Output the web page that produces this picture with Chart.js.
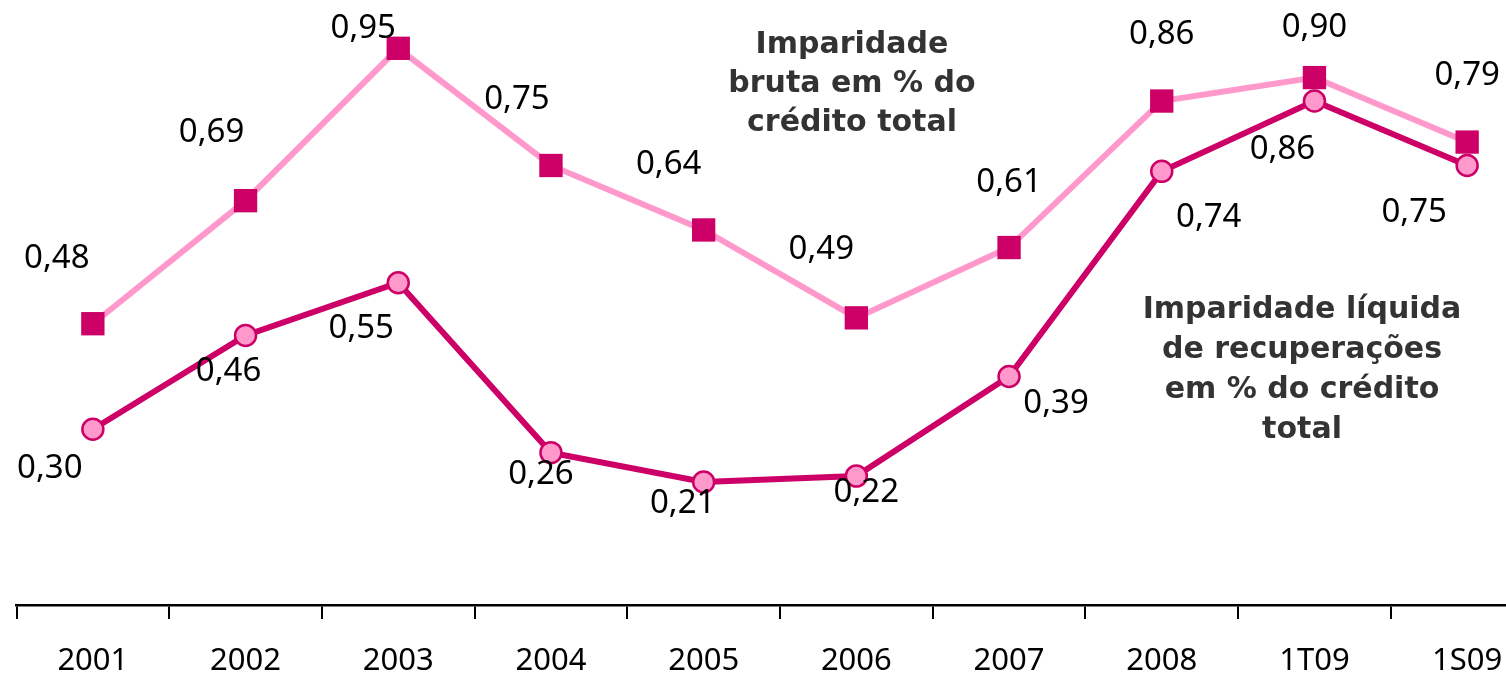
<!DOCTYPE html>
<html><head><meta charset="utf-8">
<script src="https://cdn.jsdelivr.net/npm/chart.js@4/dist/chart.umd.min.js"></script>
<style>
html,body{margin:0;padding:0;background:#fff;overflow:hidden;width:1506px;height:677px;}
#wrap{position:absolute;left:0;top:0;width:1560px;height:677px;}
</style></head>
<body><div id="wrap"><canvas id="c" width="1560" height="677"></canvas></div>
<script>
const categories = ['2001','2002','2003','2004','2005','2006','2007','2008','1T09','1S09'];
const imparidadeBruta = [0.48,0.69,0.95,0.75,0.64,0.49,0.61,0.86,0.90,0.79];
const imparidadeLiquida = [0.30,0.46,0.55,0.26,0.21,0.22,0.39,0.74,0.86,0.75];
const labelOffsetsBruta = [[-36,-65],[-34,-68],[-35,-20],[-34,-66],[-35,-65],[-35,-68],[0,-65],[0,-66],[0,-50],[0,-66]];
const labelOffsetsLiquida = [[-43,39],[-17,36],[-37,46],[-10,22],[-21,22],[10,17],[47,27],[47,46],[-32,49],[-53,47]];
const noteBruta = ['Imparidade','bruta em % do','crédito total'];
const noteLiquida = ['Imparidade líquida','de recuperações','em % do crédito','total'];

const DARK = '#CC0066', LIGHT = '#FF99CC';

const fmt = v => v.toFixed(2).replace('.', ',');

const labelPlugin = {
  id: 'labels',
  afterDatasetsDraw(chart) {
    const ctx = chart.ctx;
    ctx.save();
    ctx.font = '33px "Noto Sans"';
    ctx.fillStyle = '#000';
    ctx.textAlign = 'center';
    ctx.textBaseline = 'middle';
    chart.data.datasets.forEach((ds, di) => {
      const meta = chart.getDatasetMeta(di);
      const offs = ds.labelOffsets;
      meta.data.forEach((pt, i) => {
        ctx.fillText(fmt(ds.data[i]), pt.x + offs[i][0], pt.y + offs[i][1]);
      });
    });
    ctx.font = 'bold 30px "DejaVu Sans"';
    ctx.fillStyle = '#333333';
    noteBruta.forEach((t, i) => ctx.fillText(t, 852, 45 + i * 39));
    noteLiquida.forEach((t, i) => ctx.fillText(t, 1302, 310 + i * 40));
    ctx.restore();
  }
};

new Chart(document.getElementById('c'), {
  type: 'line',
  data: {
    labels: categories,
    datasets: [
      {
        label: 'Imparidade líquida de recuperações em % do crédito total',
        data: imparidadeLiquida,
        labelOffsets: labelOffsetsLiquida,
        borderColor: DARK, borderWidth: 6,
        pointStyle: 'circle', pointRadius: 10.5, pointBorderWidth: 2.5,
        pointBackgroundColor: LIGHT, pointBorderColor: DARK,
        tension: 0
      },
      {
        label: 'Imparidade bruta em % do crédito total',
        data: imparidadeBruta,
        labelOffsets: labelOffsetsBruta,
        borderColor: LIGHT, borderWidth: 6,
        pointStyle: 'rect', pointRadius: 16.5, pointBorderWidth: 0,
        pointBackgroundColor: DARK, pointBorderColor: DARK,
        tension: 0
      }
    ]
  },
  options: {
    responsive: false, animation: false,
    layout: { padding: { left: 14, right: 16, top: 19, bottom: 0 } },
    plugins: { legend: { display: false }, tooltip: { enabled: false } },
    scales: {
      y: { display: false, min: 0, max: 1 },
      x: {
        offset: true,
        grid: { display: true, drawOnChartArea: false, drawTicks: true, tickLength: 14, color: '#000', lineWidth: 2, offset: true },
        border: { display: true, color: '#000', width: 2.5 },
        ticks: { color: '#000', font: { family: 'Noto Sans', size: 31 }, padding: 24, maxRotation: 0, autoSkip: false },
        afterFit(s) { s.height = 72; }
      }
    }
  },
  plugins: [labelPlugin]
});
</script></body></html>
